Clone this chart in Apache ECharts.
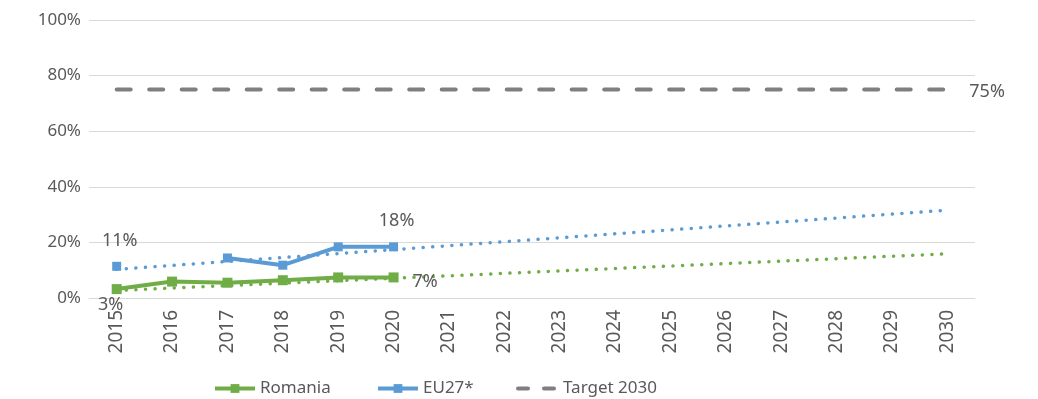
<!DOCTYPE html>
<html>
<head>
<meta charset="utf-8">
<script src="https://cdn.jsdelivr.net/npm/echarts@6/dist/echarts.min.js"></script>
<style>
  html, body { margin: 0; background: #fff; }
  #chart { width: 1038px; height: 399px; }
</style>
</head>
<body>
<div id="chart"></div>
<script>
// categories and values
const years = ['2015', '2016', '2017', '2018', '2019', '2020', '2021', '2022',
  '2023', '2024', '2025', '2026', '2027', '2028', '2029', '2030']
const romania = [3.2, 5.9, 5.5, 6.4, 7.4, 7.4]
const eu27 = [11.4, null, 14.4, 11.8, 18.4, 18.4]
const target = [75, 75, 75, 75, 75, 75, 75, 75, 75, 75, 75, 75, 75, 75, 75, 75]
// trend lines: only start (2015) and end (2030) are given, straight line between
const romaniaTrend = [2.7, null, null, null, null, null, null, null,
  null, null, null, null, null, null, null, 15.9]
const eu27Trend = [10.3, null, null, null, null, null, null, null,
  null, null, null, null, null, null, null, 31.6]
const yMin = 0
const yMax = 100
const yStep = 20

const GREEN = '#70AD47'
const BLUE = '#5B9BD5'
const GREY = '#7F7F7F'
const TEXT = '#595959'
const FONT = 'Noto Sans'

// put a data label on one point only
function withLabel(data, index, label) {
  return data.map((v, i) => {
    if (i !== index) return v
    return {
      value: v,
      label: Object.assign({
        show: true,
        color: TEXT,
        fontFamily: FONT,
        fontSize: 18,
        formatter: (p) => Math.round(p.value) + '%'
      }, label)
    }
  })
}

// one legend per item so each sits where it does in the picture
function legendAt(left, item) {
  return {
    top: 380,
    left: left,
    padding: 0,
    itemWidth: 40,
    itemHeight: 11,
    lineStyle: { width: 4 },
    textStyle: { color: TEXT, fontSize: 17, fontFamily: FONT },
    data: [item]
  }
}

const chart = echarts.init(document.getElementById('chart'))
chart.setOption({
  animation: false,
  textStyle: { fontFamily: FONT },
  grid: {
    left: 89,
    right: 63,
    top: 20,
    bottom: 101
  },
  legend: [
    legendAt(213, 'Romania'),
    legendAt(376, 'EU27*'),
    legendAt(516, {
      name: 'Target 2030',
      itemStyle: { opacity: 0 },
      lineStyle: { type: [10, 16], cap: 'round', width: 4 }
    })
  ],
  xAxis: {
    type: 'category',
    data: years,
    boundaryGap: true,
    axisLine: { lineStyle: { color: '#D9D9D9', width: 1 } },
    axisTick: { show: false },
    axisLabel: {
      rotate: 90,
      margin: 12,
      color: TEXT,
      fontSize: 19,
      fontFamily: FONT
    }
  },
  yAxis: {
    type: 'value',
    min: yMin,
    max: yMax,
    interval: yStep,
    axisLine: { show: false },
    axisTick: { show: false },
    splitLine: { lineStyle: { color: '#D9D9D9', width: 1 } },
    axisLabel: {
      margin: 8,
      color: TEXT,
      fontSize: 17,
      fontFamily: FONT,
      formatter: '{value}%'
    }
  },
  series: [
    {
      name: 'Romania trend',
      type: 'line',
      data: romaniaTrend,
      connectNulls: true,
      symbol: 'none',
      silent: true,
      z: 1,
      lineStyle: { color: GREEN, width: 3.5, type: [0.1, 9.5], cap: 'round' }
    },
    {
      name: 'EU27 trend',
      type: 'line',
      data: eu27Trend,
      connectNulls: true,
      symbol: 'none',
      silent: true,
      z: 1,
      lineStyle: { color: BLUE, width: 3.5, type: [0.1, 9.5], cap: 'round' }
    },
    {
      name: 'Romania',
      type: 'line',
      z: 3,
      data: withLabel(
        withLabel(romania, 5, { position: 'right', distance: 14, offset: [0, 4] }),
        0, { position: 'bottom', distance: 2, offset: [-6, 0] }
      ),
      symbol: 'rect',
      symbolSize: 10,
      itemStyle: { color: GREEN },
      lineStyle: { color: GREEN, width: 4 }
    },
    {
      name: 'EU27*',
      type: 'line',
      z: 2,
      data: withLabel(
        withLabel(eu27, 0, { position: 'top', distance: 12, offset: [3, 0] }),
        5, { position: 'top', distance: 12, offset: [3, 0] }
      ),
      symbol: 'rect',
      symbolSize: 9,
      itemStyle: { color: BLUE },
      lineStyle: { color: BLUE, width: 4 }
    },
    {
      name: 'Target 2030',
      type: 'line',
      z: 2,
      data: target,
      symbol: 'none',
      itemStyle: { color: GREY },
      lineStyle: { color: GREY, width: 4, type: [14, 18.5], cap: 'round' },
      endLabel: {
        show: true,
        distance: 22,
        offset: [0, 2],
        color: TEXT,
        fontFamily: FONT,
        fontSize: 18,
        formatter: (p) => p.value + '%'
      }
    }
  ]
})
</script>
</body>
</html>
